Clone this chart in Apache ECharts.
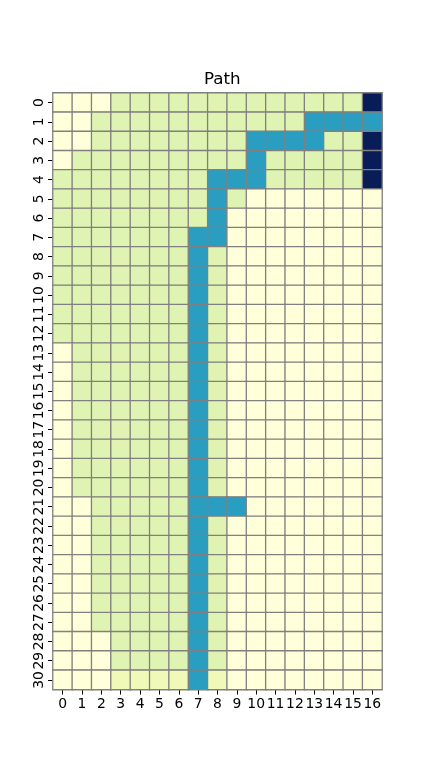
<!DOCTYPE html>
<html>
<head>
<meta charset="utf-8">
<script src="https://cdn.jsdelivr.net/npm/echarts@6/dist/echarts.min.js"></script>
<style>
  html, body { margin: 0; padding: 0; background: #ffffff; }
  #chart { width: 425px; height: 775px; }
</style>
</head>
<body>
<div id="chart"></div>
<script>
// Column and row labels
var columns = ['0','1','2','3','4','5','6','7','8','9','10','11','12','13','14','15','16'];
var rows = ['0','1','2','3','4','5','6','7','8','9','10','11','12','13','14','15','16','17','18','19','20','21','22','23','24','25','26','27','28','29','30'];

// Cell values (0 = pale yellow ... 1 = navy, YlGnBu scale)
var grid = [
  [0,0,0,.17,.17,.17,.17,.17,.17,.17,.17,.17,.17,.17,.17,.17,1],
  [0,0,.17,.17,.17,.17,.17,.17,.17,.17,.17,.17,.17,.58,.58,.58,.58],
  [0,0,.17,.17,.17,.17,.17,.17,.17,.17,.58,.58,.58,.58,.17,.17,1],
  [0,.17,.17,.17,.17,.17,.17,.17,.17,.17,.58,.17,.17,.17,.17,.17,1],
  [.17,.17,.17,.17,.17,.17,.17,.17,.58,.58,.58,.17,.17,.17,.17,.17,1],
  [.17,.17,.17,.17,.17,.17,.17,.17,.58,.17,0,0,0,0,0,0,0],
  [.17,.17,.17,.17,.17,.17,.17,.17,.58,0,0,0,0,0,0,0,0],
  [.17,.17,.17,.17,.17,.17,.17,.58,.58,0,0,0,0,0,0,0,0],
  [.17,.17,.17,.17,.17,.17,.17,.58,.17,0,0,0,0,0,0,0,0],
  [.17,.17,.17,.17,.17,.17,.17,.58,.17,0,0,0,0,0,0,0,0],
  [.17,.17,.17,.17,.17,.17,.17,.58,.17,0,0,0,0,0,0,0,0],
  [.17,.17,.17,.17,.17,.17,.17,.58,.17,0,0,0,0,0,0,0,0],
  [.17,.17,.17,.17,.17,.17,.17,.58,.17,0,0,0,0,0,0,0,0],
  [0,.17,.17,.17,.17,.17,.17,.58,.17,0,0,0,0,0,0,0,0],
  [0,.17,.17,.17,.17,.17,.17,.58,.17,0,0,0,0,0,0,0,0],
  [0,.17,.17,.17,.17,.17,.17,.58,.17,0,0,0,0,0,0,0,0],
  [0,.17,.17,.17,.17,.17,.17,.58,.17,0,0,0,0,0,0,0,0],
  [0,.17,.17,.17,.17,.17,.17,.58,.17,0,0,0,0,0,0,0,0],
  [0,.17,.17,.17,.17,.17,.17,.58,.17,0,0,0,0,0,0,0,0],
  [0,.17,.17,.17,.17,.17,.17,.58,.17,0,0,0,0,0,0,0,0],
  [0,.17,.17,.17,.17,.17,.17,.58,.17,0,0,0,0,0,0,0,0],
  [0,0,.17,.17,.17,.17,.17,.58,.58,.58,0,0,0,0,0,0,0],
  [0,0,.17,.17,.17,.17,.17,.58,.17,0,0,0,0,0,0,0,0],
  [0,0,.17,.17,.17,.17,.17,.58,.17,0,0,0,0,0,0,0,0],
  [0,0,.17,.17,.17,.17,.17,.58,.17,0,0,0,0,0,0,0,0],
  [0,0,.17,.17,.17,.17,.17,.58,.17,0,0,0,0,0,0,0,0],
  [0,0,.17,.17,.17,.17,.17,.58,.17,0,0,0,0,0,0,0,0],
  [0,0,.17,.17,.17,.17,.17,.58,.17,0,0,0,0,0,0,0,0],
  [0,0,0,.17,.17,.17,.17,.58,.17,0,0,0,0,0,0,0,0],
  [0,0,0,.17,.17,.17,.17,.58,.17,0,0,0,0,0,0,0,0],
  [0,0,0,.1,.1,.1,.1,.58,.1,0,0,0,0,0,0,0,0]
];

var titleText = 'Path';
var ylgnbu = ['#ffffd9','#edf8b1','#c7e9b4','#7fcdbb','#41b6c4','#1d91c0','#225ea8','#253494','#081d58'];

var data = [];
for (var r = 0; r < grid.length; r++) {
  for (var c = 0; c < grid[r].length; c++) {
    data.push([c, r, grid[r][c]]);
  }
}

var font = 'DejaVu Sans';
var chart = echarts.init(document.getElementById('chart'), null, { renderer: 'canvas' });
chart.setOption({
  backgroundColor: '#ffffff',
  animation: false,
  title: {
    text: titleText,
    left: 199,
    top: 66,
    textStyle: { fontFamily: font, fontSize: 16.7, fontWeight: 'normal', color: '#000000' }
  },
  grid: { left: 53, top: 93, width: 329, height: 596.5, containLabel: false },
  xAxis: {
    type: 'category',
    data: columns,
    position: 'bottom',
    axisLine: { show: false },
    axisTick: { show: true, alignWithLabel: true, length: 5, lineStyle: { color: '#000000', width: 1 } },
    axisLabel: { interval: 0, margin: 8, fontFamily: font, fontSize: 13.9, color: '#000000' },
    splitLine: { show: false }
  },
  yAxis: {
    type: 'category',
    data: rows,
    inverse: true,
    axisLine: { show: false },
    axisTick: { show: true, alignWithLabel: true, length: 5, lineStyle: { color: '#000000', width: 1 } },
    axisLabel: { interval: 0, rotate: 90, margin: 7, fontFamily: font, fontSize: 13.9, color: '#000000' },
    splitLine: { show: false }
  },
  visualMap: {
    show: false,
    type: 'continuous',
    min: 0,
    max: 1,
    dimension: 2,
    inRange: { color: ylgnbu }
  },
  series: [{
    type: 'heatmap',
    data: data,
    itemStyle: { borderColor: '#808080', borderWidth: 1.3 },
    emphasis: { disabled: true },
    label: { show: false }
  }]
});
</script>
</body>
</html>
